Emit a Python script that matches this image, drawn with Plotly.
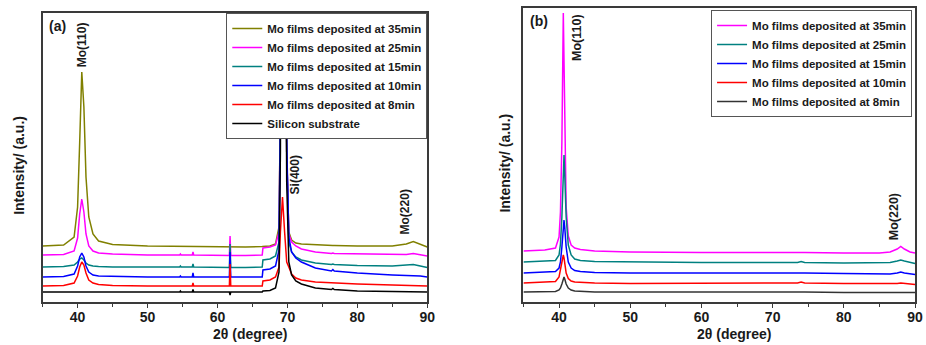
import plotly.graph_objects as go

W, H = 926, 345

# ---------------- Panel (a) data ----------------
two_theta_a = [35, 38, 39.5, 40.0, 40.3, 40.6, 40.9, 41.2, 41.6, 42.2,
               43, 45, 50, 54.6, 54.7, 54.8, 56.4, 56.5, 56.6, 60,
               61.7, 61.8, 61.9, 64, 66.4, 66.5, 67.5, 68.3, 68.8, 69.0,
               69.3, 69.6, 69.9, 70.2, 70.6, 71.2, 72, 74, 76.3, 76.5,
               76.7, 80, 85, 87, 88, 89, 90]

a_35min = [56, 57, 65, 95, 160, 230, 195, 125, 85, 68,
           61, 57.5, 56, 55.5, 55.5, 55.5, 55.5, 55.5, 55.5, 55,
           55, 55, 55, 55, 55.5, 55.5, 56, 58, 75, 200,
           900, 500, 150, 70, 62, 59, 58, 57, 56.5, 56.5,
           56.5, 56, 56, 58, 60.5, 58, 55]
a_25min = [47, 47.5, 51, 64, 88, 103, 90, 68, 56, 51,
           49, 48, 47, 47, 48, 47, 47, 50, 47, 46.5,
           46.5, 66, 46.5, 46.5, 47, 54, 55, 57, 70, 200,
           900, 500, 150, 68, 60, 56, 53, 50, 48.5, 49,
           48.5, 48, 47.5, 47.5, 48.5, 47.5, 46]
a_15min = [35, 35.5, 37, 40, 43, 44, 42, 39, 37, 36,
           35.5, 35, 35, 35, 36, 35, 35, 38, 35, 34.5,
           34.5, 58, 34.5, 34.5, 35, 42, 43, 46, 60, 200,
           900, 500, 150, 60, 50, 45, 42, 39, 37.5, 38,
           37.5, 36.5, 36, 36.5, 37.5, 36, 34.5]
a_10min = [25, 25.5, 28, 36, 45, 49, 45, 36, 30, 27,
           26, 25.5, 25, 25, 26, 25, 25, 29, 25, 25,
           25, 50, 25, 25, 25, 32, 33, 36, 52, 180,
           900, 500, 160, 65, 50, 44, 40, 34, 31, 32.5,
           31, 29, 27, 26.5, 26.5, 26, 25]
a_8min = [16, 16.5, 19, 26, 35, 40, 37, 29, 22, 19,
          17.5, 16.5, 16, 16, 16.5, 16, 16, 19, 16, 16,
          16, 38, 16, 16, 16, 21, 22, 25, 35, 70,
          105, 70, 40, 35, 28, 24, 22, 20, 19, 19.5,
          19, 18, 17, 16.5, 17, 16.5, 16]
a_silicon = [10, 10, 10, 10, 10, 10, 10, 10, 10, 10,
             10, 10, 10, 10, 11, 10, 10, 12.5, 10, 10,
             10, 7, 10, 10, 10, 11, 11.5, 14, 30, 150,
             900, 500, 120, 40, 27, 21, 18, 14, 12.5, 13.5,
             12.5, 11, 10.5, 10, 10, 10, 10]

# ---------------- Panel (b) data ----------------
two_theta_b = [35, 38, 39.5, 40.0, 40.2, 40.4, 40.6, 40.7, 40.8, 41.0,
               41.3, 41.7, 42.2, 43, 45, 50, 60, 70, 73.5, 74,
               74.5, 80, 85, 86.5, 87.5, 88, 88.5, 89.3, 90]

b_35min = [51, 52, 54, 65, 90, 160, 289, 240, 170, 95,
           66, 57, 54, 52.5, 51, 50, 49.5, 49.5, 49.5, 50,
           49.5, 49, 49, 50, 53, 55.5, 53, 50, 49]
b_25min = [40, 40.5, 41.5, 47, 58, 85, 138, 147, 128, 85,
           57, 47, 43, 41.5, 40.5, 40, 39.5, 39.5, 39.5, 40.5,
           39.5, 39, 39, 39.5, 41, 42, 41, 39.5, 38.5]
b_15min = [29, 29.5, 30.5, 34, 40, 55, 77, 82, 75, 55,
           40, 34, 31.5, 30.5, 29.5, 29, 29, 29, 29, 29.5,
           29, 28.5, 28, 28, 29, 30, 29, 28, 27.5]
b_10min = [19, 19.5, 20.5, 25, 32, 42, 47, 44, 38, 29,
           23.5, 21, 20, 19.5, 19, 18.5, 18.5, 18.5, 19, 20,
           19, 18.5, 18, 18, 18.5, 19, 18.5, 18, 17.5]
b_8min = [10, 10, 10.5, 12, 14, 18, 23, 25, 23, 18,
          14, 12, 11, 10.5, 10, 10, 10, 10, 10, 10.5,
          10, 9.5, 9.5, 9.5, 9.5, 10, 9.5, 9.5, 9.5]

series_a = [
    ("Mo films deposited at 35min", a_35min, "#808000"),
    ("Mo films deposited at 25min", a_25min, "#FF00FF"),
    ("Mo films deposited at 15min", a_15min, "#008080"),
    ("Mo films deposited at 10min", a_10min, "#0000FF"),
    ("Mo films deposited at 8min", a_8min, "#FF0000"),
    ("Silicon substrate", a_silicon, "#000000"),
]
series_b = [
    ("Mo films deposited at 35min", b_35min, "#FF00FF"),
    ("Mo films deposited at 25min", b_25min, "#008080"),
    ("Mo films deposited at 15min", b_15min, "#0000FF"),
    ("Mo films deposited at 10min", b_10min, "#FF0000"),
    ("Mo films deposited at 8min", b_8min, "#333333"),
]

FONT = "Liberation Sans, Arial, sans-serif"
TXT = "#1a1a1a"
AX = "#3a3a3a"

fig = go.Figure()
for name, ys, col in series_a:
    fig.add_trace(go.Scatter(x=two_theta_a, y=ys, mode="lines", name=name,
                             line=dict(color=col, width=1.5),
                             xaxis="x", yaxis="y", legend="legend"))
for name, ys, col in series_b:
    fig.add_trace(go.Scatter(x=two_theta_b, y=ys, mode="lines", name=name,
                             line=dict(color=col, width=1.5),
                             xaxis="x2", yaxis="y2", legend="legend2"))


def px(x):
    return x / W


def py(y):
    return 1 - y / H


xaxis_style = dict(
    range=[35, 90], dtick=10, tick0=0, ticks="outside", ticklen=4, tickwidth=1.3,
    tickcolor=AX, showline=True, linecolor=AX, linewidth=1.6, mirror=True,
    showgrid=False, zeroline=False, ticklabelstandoff=-3,
    tickfont=dict(family=FONT, size=14, color=TXT, weight="bold"),
    minor=dict(dtick=5, tick0=0, ticks="outside", ticklen=3, tickwidth=1.2, tickcolor=AX),
)
yaxis_style = dict(
    showticklabels=False, ticks="", showline=True, linecolor=AX, linewidth=1.6,
    mirror=True, showgrid=False, zeroline=False,
)

legend_style = dict(
    bgcolor="white", bordercolor="#555555", borderwidth=1,
    font=dict(family=FONT, size=11.5, color=TXT, weight="bold"),
    xanchor="right", yanchor="top", tracegroupgap=0,
)

fig.update_layout(
    width=W, height=H, autosize=False,
    margin=dict(l=0, r=0, t=0, b=0),
    paper_bgcolor="white", plot_bgcolor="white",
    showlegend=True,
    xaxis=dict(domain=[px(43), px(431)], anchor="y", **xaxis_style),
    yaxis=dict(domain=[py(302), py(13)], anchor="x", range=[0, 289], **yaxis_style),
    xaxis2=dict(domain=[px(528), px(923)], anchor="y2", **xaxis_style),
    yaxis2=dict(domain=[py(302), py(8)], anchor="x2", range=[0, 294], **yaxis_style),
    legend=dict(x=px(431), y=py(13), **legend_style),
    legend2=dict(x=px(920), y=py(10), **legend_style),
)

def ann(text, x, y, size=14, angle=0):
    fig.add_annotation(text=text, x=px(x), y=py(y), xref="paper", yref="paper",
                       xanchor="center", yanchor="middle", showarrow=False,
                       textangle=angle,
                       font=dict(family=FONT, size=size, color=TXT, weight="bold"))

# axis titles
ann("2θ (degree)", 252, 334)
ann("2θ (degree)", 740, 334)
ann("Intensity/ (a.u.)", 19, 165, angle=-90)
ann("Intensity/ (a.u.)", 509, 163, angle=-90)
# panel labels
ann("(a)", 58, 26)
ann("(b)", 544, 21)
# peak labels
ann("Mo(110)", 83, 45, size=12, angle=-90)
ann("Si(400)", 298, 175, size=12, angle=-90)
ann("Mo(220)", 409, 212, size=12, angle=-90)
ann("Mo(110)", 582, 37, size=12.5, angle=-90)
ann("Mo(220)", 902, 217, size=12.5, angle=-90)

fig.write_html("out.html", config={"displayModeBar": False},
               post_script="document.body.style.margin='0';document.body.style.overflow='hidden';")
